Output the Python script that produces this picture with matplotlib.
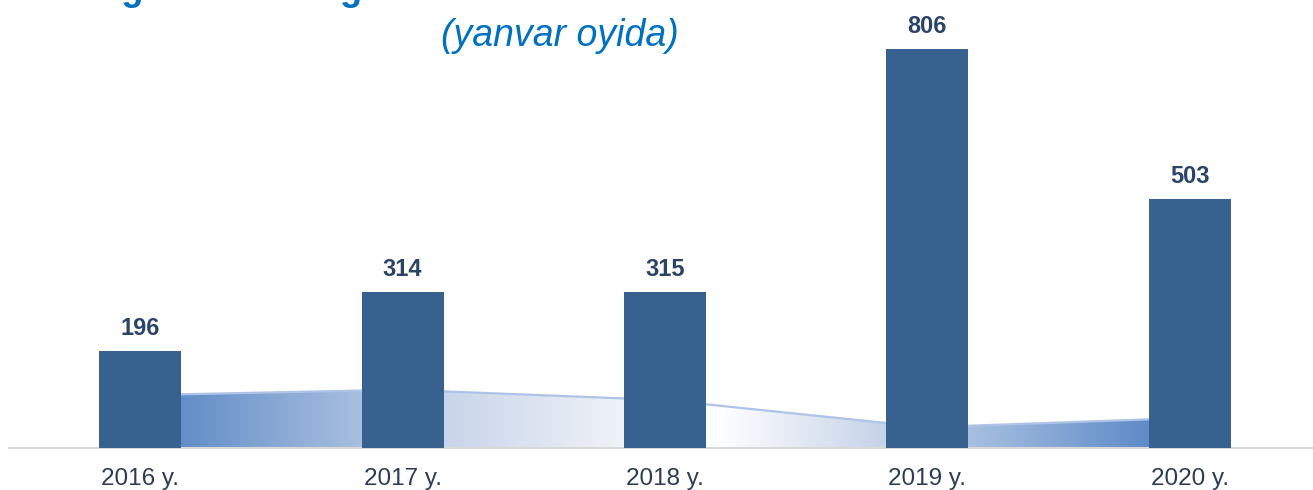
import numpy as np
import matplotlib.pyplot as plt
from matplotlib.colors import LinearSegmentedColormap

plt.rcParams['font.family'] = ['Liberation Sans', 'DejaVu Sans']

# data
years = ["2016 y.", "2017 y.", "2018 y.", "2019 y.", "2020 y."]
bar_vals = [196, 314, 315, 806, 503]
area_vals = [106, 117, 96, 41, 60]

title = "Yangi tashkil etilgan korxonalar soni"
subtitle = "(yanvar oyida)"

W, H = 1313, 490
fig = plt.figure(figsize=(W / 100, H / 100), dpi=100)

# axes placed in pixel terms
ax_left, ax_right = 9, 1321
ax_bottom = 447.5
ax = fig.add_axes([ax_left / W, (H - ax_bottom) / H,
                   (ax_right - ax_left) / W, ax_bottom / H])
ymax = ax_bottom / 0.494
x = np.arange(len(years))

# gradient area behind bars (blue at ends, white around 2018/2019)
poly = ax.fill_between(x, 0, area_vals, color="none", lw=0, zorder=1)
cmap = LinearSegmentedColormap.from_list(
    "grad",
    [(0.0, "#5A86C4"), (0.045, "#6690C8"), (0.21, "#A8BFDF"),
     (0.29, "#C8D5EA"), (0.46, "#F0F3F8"), (0.55, "#FFFFFF"),
     (0.71, "#C5D3E8"), (0.79, "#A8C0E0"), (0.96, "#5F8CC8"),
     (1.0, "#5A86C4")])
grad = np.linspace(0, 1, 512).reshape(1, -1)
img = ax.imshow(grad, cmap=cmap, aspect="auto",
                extent=[0, len(years) - 1, 0, max(area_vals) + 5],
                zorder=1, interpolation="bilinear")
img.set_clip_path(poly.get_paths()[0], transform=ax.transData)
ax.plot(x, area_vals, color="#AFC3E8", lw=1.6, zorder=2)
ax.set_ylim(0, ymax)
ax.set_xlim(-0.5, len(years) - 0.5)

bars = ax.bar(x, bar_vals, width=0.312, color="#37618F", zorder=3)
for b, v in zip(bars, bar_vals):
    ax.annotate(str(v), (b.get_x() + b.get_width() / 2, v),
                xytext=(0, 8), textcoords="offset points",
                ha="center", va="bottom", fontsize=17,
                fontweight="bold", color="#2A4467")

for s in ["top", "right", "left"]:
    ax.spines[s].set_visible(False)
ax.spines["bottom"].set_color("#D9D9D9")
ax.spines["bottom"].set_linewidth(1.5)
ax.set_yticks([])
ax.set_xticks(x)
ax.set_xticklabels(years, fontsize=17.5, color="#2B3C55")
ax.tick_params(axis="x", length=0, pad=15)

# title mostly cut off by the top edge (as in the source), subtitle below
fig.text(57 / W, 1 - 0.5 / H, title, fontsize=26, fontweight="bold",
         color="#0070C0", ha="left", va="baseline")
fig.text(560 / W, 1 - 36 / H, subtitle, fontsize=27, style="italic",
         color="#0070C0", ha="center", va="center")

plt.savefig("out.png", dpi=100)
